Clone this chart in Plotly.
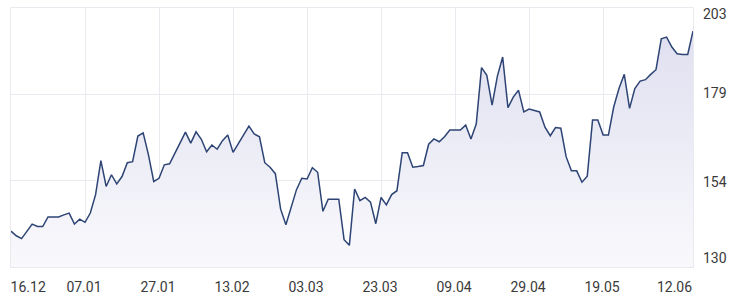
import plotly.graph_objects as go

# Closing prices by trading day (index 0 = 16.12)
prices = [
    140.1, 138.8, 138.0, 140.1, 142.1, 141.4, 141.4, 144.1, 144.1, 144.1,
    144.7, 145.2, 142.1, 143.5, 142.6, 145.2, 150.4, 160.0, 152.7, 156.0,
    153.4, 155.5, 159.4, 159.7, 166.9, 167.8, 161.6, 154.1, 155.0, 158.8,
    159.1, 162.2, 165.0, 168.0, 164.9, 168.1, 166.0, 162.5, 164.4, 163.2,
    165.6, 167.2, 162.3, 164.8, 167.2, 169.7, 167.5, 166.7, 159.4, 158.1,
    156.3, 146.3, 141.9, 147.1, 151.8, 155.0, 154.8, 158.0, 156.7, 145.7,
    149.1, 149.1, 149.1, 137.7, 136.1, 152.0, 148.7, 149.6, 148.3, 142.2,
    149.6, 147.5, 150.4, 151.5, 162.2, 162.2, 158.1, 158.3, 158.6, 164.6,
    166.1, 165.3, 166.7, 168.6, 168.6, 168.6, 170.0, 166.1, 170.3, 186.2,
    184.0, 175.6, 183.8, 189.2, 174.9, 177.9, 179.8, 173.7, 174.5, 174.2,
    173.7, 169.4, 167.0, 169.3, 169.1, 161.1, 157.1, 157.1, 153.9, 155.6,
    171.4, 171.4, 167.2, 167.2, 175.1, 180.3, 184.3, 174.7, 180.3, 182.4,
    182.8, 184.3, 185.6, 194.3, 194.8, 192.0, 190.1, 189.9, 189.9, 196.5,
]
days = list(range(len(prices)))

x_grid = [14, 28, 42, 56, 70, 84, 98, 112]
x_label_pos = [3.25, 13.8, 27.8, 41.8, 55.8, 69.8, 83.8, 97.8, 111.8, 125.5]
x_labels = ["16.12", "07.01", "27.01", "13.02", "03.03", "23.03",
            "09.04", "29.04", "19.05", "12.06"]

y_min, y_max = 130, 203
y_grid = [154.33, 178.67]
y_label_pos = [132.45, 154.0, 179.0, 201.2]
y_labels = ["130", "154", "179", "203"]

LINE = "#2d4474"
GRID = "#e9e9ef"
TXT = "#3a3a3a"
FONT = dict(family="Roboto, sans-serif", size=14, color=TXT)

fig = go.Figure()
fig.add_trace(go.Scatter(
    x=days, y=prices, mode="lines",
    line=dict(color=LINE, width=1.5),
    fill="tozeroy",
    fillgradient=dict(type="vertical", start=y_min, stop=y_max - 5,
                      colorscale=[[0, "#f9f9fc"], [1, "#dfdff0"]]),
    hoverinfo="skip", showlegend=False,
))
# invisible trace on secondary axes so they are drawn
fig.add_trace(go.Scatter(x=[0, 129], y=[y_min, y_max], xaxis="x2", yaxis="y2",
                         mode="markers", marker=dict(opacity=0),
                         hoverinfo="skip", showlegend=False))

fig.update_layout(
    width=739, height=297,
    margin=dict(l=11, r=46, t=7.5, b=29.5),
    paper_bgcolor="white", plot_bgcolor="white",
    font=FONT,
    xaxis=dict(range=[0, 129], tickvals=x_grid, showticklabels=False,
               showgrid=True, gridcolor=GRID, gridwidth=1, zeroline=False,
               showline=True, mirror=True, linecolor=GRID, linewidth=1,
               ticks="", automargin=False),
    yaxis=dict(range=[y_min, y_max], tickvals=y_grid, showticklabels=False,
               showgrid=True, gridcolor=GRID, gridwidth=1, zeroline=False,
               showline=True, mirror=True, linecolor=GRID, linewidth=1,
               ticks="", automargin=False),
    xaxis2=dict(range=[0, 129], overlaying="x", side="bottom", anchor="y2",
                tickvals=x_label_pos, ticktext=x_labels, showgrid=False,
                zeroline=False, showline=False, ticks="",
                ticklabelstandoff=10, tickfont=FONT, automargin=False),
    yaxis2=dict(range=[y_min, y_max], overlaying="y", side="right",
                anchor="x2", tickvals=y_label_pos, ticktext=y_labels,
                showgrid=False, zeroline=False, showline=False, ticks="",
                ticklabelstandoff=9, tickfont=FONT, automargin=False),
)

fig.write_html("out.html")
